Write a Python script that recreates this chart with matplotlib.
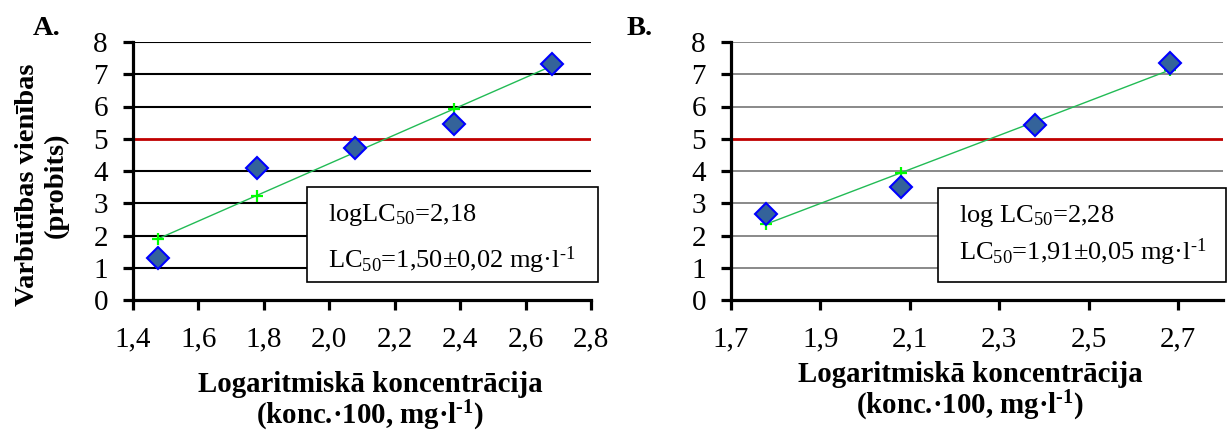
import matplotlib
matplotlib.use("Agg")
import matplotlib.pyplot as plt
from matplotlib.patches import Rectangle

# Log concentration (conc.*100, mg/l) and probit values
log_conc_a = [1.477, 1.778, 2.079, 2.380, 2.681]
probit_a = [1.30, 4.10, 4.70, 5.45, 7.33]
fit_a = [1.90, 3.24, 4.58, 5.92, 7.26]

log_conc_b = [1.778, 2.079, 2.380, 2.681]
probit_b = [2.67, 3.51, 5.43, 7.36]
fit_b = [2.35, 3.94, 5.53, 7.13]

xticks_a = [1.4, 1.6, 1.8, 2.0, 2.2, 2.4, 2.6, 2.8]
xticklabels_a = ["1,4", "1,6", "1,8", "2,0", "2,2", "2,4", "2,6", "2,8"]
xticks_b = [1.7, 1.9, 2.1, 2.3, 2.5, 2.7]
xticklabels_b = ["1,7", "1,9", "2,1", "2,3", "2,5", "2,7"]
yticks = [0, 1, 2, 3, 4, 5, 6, 7, 8]
probit_50 = 5

box_a = ["logLC$_{50}$=2,18", "LC$_{50}$=1,50±0,02 mg·l$^{\u20101}$"]
box_b = ["log LC$_{50}$=2,28", "LC$_{50}$=1,91±0,05 mg·l$^{\u20101}$"]
ylabel = "Varbūtības vienības\n(probits)"
xlabel1 = "Logaritmiskā koncentrācija"
xlabel2 = "(konc.·100, mg·l$^{\\mathbf{\u20101}}$)"

plt.rcParams["font.family"] = ["Liberation Serif", "DejaVu Serif"]
plt.rcParams["mathtext.fontset"] = "custom"
plt.rcParams["mathtext.rm"] = "Liberation Serif"
plt.rcParams["mathtext.it"] = "Liberation Serif:italic"
plt.rcParams["mathtext.bf"] = "Liberation Serif:bold"

W, H = 1229, 432
fig = plt.figure(figsize=(W / 100, H / 100), dpi=100)


def fx(px):
    return px / W


def fy(py):
    return 1 - py / H


def axes_rect(left, right, top, bottom):
    return [fx(left), fy(bottom), fx(right) - fx(left), (bottom - top) / H]


def style_axes(ax, grid_color, grid_lw):
    for s in ("top", "right"):
        ax.spines[s].set_visible(False)
    for s in ("left", "bottom"):
        ax.spines[s].set_linewidth(2.3)
        ax.spines[s].set_color("black")
    ax.tick_params(axis="both", direction="out", length=7, width=2.3,
                   labelsize=21, colors="black")
    ax.tick_params(axis="y", pad=11)
    ax.tick_params(axis="x", pad=12)
    ax.set_ylim(0, 8)
    ax.set_yticks(yticks)
    ax.set_yticklabels([str(v) for v in yticks])
    for v in yticks[1:]:
        if v == probit_50:
            continue
        ax.axhline(v, color=grid_color, lw=grid_lw, zorder=1)
    ax.axhline(probit_50, color="#C00000", lw=2.0, zorder=2)


def draw_series(ax, xs, ys, fit):
    ax.plot(xs, fit, color="#22BB55", lw=1.0, zorder=3)
    ax.plot(xs, fit, ls="none", marker="+", ms=9, mew=1.6,
            color="#00FF00", zorder=4)
    ax.plot(xs, ys, ls="none", marker="D", ms=10.8, mfc="#34639A",
            mec="#0000FF", mew=1.5, zorder=5)


# Panel A
ax_a = fig.add_axes(axes_rect(133, 591, 42, 300))
style_axes(ax_a, "black", 1.5)
ax_a.set_xlim(1.4, 2.8)
ax_a.set_xticks(xticks_a)
ax_a.set_xticklabels(xticklabels_a)
draw_series(ax_a, log_conc_a, probit_a, fit_a)

# Panel B
ax_b = fig.add_axes(axes_rect(731, 1223, 42, 300))
style_axes(ax_b, "#6a6a6a", 1.1)
ax_b.set_xlim(1.7, 2.8)
ax_b.set_xticks(xticks_b)
ax_b.set_xticklabels(xticklabels_b)
draw_series(ax_b, log_conc_b, probit_b, fit_b)

# Panel letters
fig.text(fx(33), fy(35), "A.", fontsize=20.5, fontweight="bold", va="baseline")
fig.text(fx(627), fy(35), "B.", fontsize=20.5, fontweight="bold", va="baseline")

# Y axis title
fig.text(fx(42), fy(185), ylabel, rotation=90, fontsize=20.5,
         fontweight="bold", ha="center", va="center",
         multialignment="center", linespacing=1.2)

# X axis titles
for cx, b1, b2 in ((370, 392, 424), (970, 382, 414)):
    fig.text(fx(cx), fy(b1), xlabel1, fontsize=20.8, fontweight="bold",
             ha="center", va="baseline")
    fig.text(fx(cx), fy(b2), xlabel2, fontsize=20.8, fontweight="bold",
             ha="center", va="baseline")

# Result boxes
for (x0, y0, x1, y1), lines, tx, bases in (
        ((307, 187, 598, 282), box_a, 328, (221, 268)),
        ((938, 188, 1226, 282), box_b, 959, (222, 260))):
    fig.patches.append(Rectangle((fx(x0), fy(y1)), fx(x1) - fx(x0),
                                 (y1 - y0) / H, transform=fig.transFigure,
                                 facecolor="white", edgecolor="black",
                                 lw=1.2, zorder=6))
    for line, by in zip(lines, bases):
        fig.text(fx(tx), fy(by), line, fontsize=19, va="baseline", zorder=7)

fig.savefig("out.png", dpi=100)
